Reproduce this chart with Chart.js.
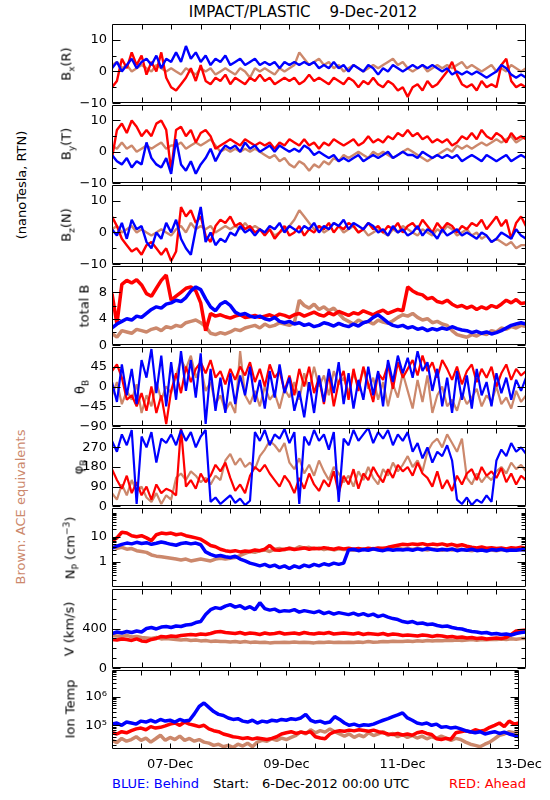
<!DOCTYPE html>
<html>
<head>
<meta charset="utf-8">
<script src="https://cdn.jsdelivr.net/npm/chart.js@4.4.1/dist/chart.umd.min.js"></script>
<style>
  body { margin: 0; background: #fff; width: 550px; height: 800px; position: relative; overflow: hidden;
         font-family: "DejaVu Sans", sans-serif; }
  canvas.panel { position: absolute; left: 0; }
  .txt { position: absolute; white-space: nowrap; font-size: 13px; line-height: 1; color: #000; }
  .rot { transform: translate(-50%, -50%) rotate(-90deg); }
  sub, sup { font-size: 9px; line-height: 0; }
</style>
</head>
<body>
<div class="txt" style="left:303px;top:12px;font-size:15px;transform:translate(-50%,-50%)">IMPACT/PLASTIC&nbsp;&nbsp;&nbsp;&nbsp;9-Dec-2012</div>
<div class="txt rot" style="left:21px;top:185px">(nanoTesla, RTN)</div>
<div class="txt rot" style="left:20px;top:507px;color:rgb(204,136,108)">Brown: ACE equivalents</div>
<div class="txt" style="left:112px;top:777px;color:#0000ff">BLUE: Behind</div>
<div class="txt" style="left:213px;top:777px">Start:</div>
<div class="txt" style="left:262px;top:777px">6-Dec-2012 00:00 UTC</div>
<div class="txt" style="right:24px;top:777px;color:#ff0000">RED: Ahead</div>

<script>
// time axis: hours after 6-Dec-2012 00:00, one sample every 2 h
const hours = Array.from({ length: 85 }, (_, i) => 2 * i);
const dayTicks = [24, 72, 120, 168];
const dayLabels = ['07-Dec', '09-Dec', '11-Dec', '13-Dec'];
const halfDays = [12, 24, 36, 48, 60, 72, 84, 96, 108, 120, 132, 144, 156];

// B_x (R), nT   -- one row per day
const bxBlue = [1,3,0,2,4,1,3,4,2,5,1,4, 3,6,3,8,4,6,3,5,2,4,3,5, 2,3,4,2,3,4,2,3,2,3,1,3,
  2,3,2,3,2,3,1,2,1,3,1,2, 0,2,1,0,2,1,-1,1,0,2,1,0, 1,2,1,2,1,2,1,0,1,-1,0,-1,
  0,-1,0,-1,-2,-1,0,2,1,-1,-2,-1, -2];
const bxRed = [-5,-3,4,1,6,2,5,-1,3,0,6,-2, -5,-6,-4,-2,1,-3,2,-3,-4,-2,-3,-1, -4,-2,-3,-4,-2,-3,-1,-3,-2,-4,-3,-2,
  -3,-2,-4,-3,-1,-3,-2,-3,-4,-2,-3,-4, -2,-3,-5,-3,-4,-2,-4,-5,-3,-4,-6,-5, -8,-5,-4,-6,-3,-5,-4,-2,0,3,-1,-4,
  -5,-4,-6,-3,-5,-4,-5,2,4,-3,-5,-4, -5];
const bxBrown = [2,3,1,2,0,1,2,1,0,2,1,0, 1,0,-1,1,0,-1,1,0,1,-1,0,1, 0,-1,1,0,-2,1,0,1,0,-1,1,0,
  1,2,6,4,2,3,4,2,3,1,2,0, 1,2,1,0,1,2,1,2,3,4,2,3, 1,0,1,2,0,1,2,1,2,1,2,3,
  1,2,1,0,1,2,0,1,0,2,1,0, 1];

// B_y (T), nT
const byBlue = [-1,-3,-4,-2,-5,-3,-4,3,-2,-4,-5,-2, -7,4,-4,-6,-3,-7,-4,-2,1,-3,0,2, 1,2,0,3,1,2,0,1,2,0,2,1,
  0,1,0,2,1,-1,0,-1,-2,-1,-3,-2, -3,-2,-1,-3,-2,-1,-2,-1,0,-2,-1,0, -1,-1,-2,0,-1,-2,-1,-2,-1,-2,-1,-3,
  -2,-1,-2,-3,-1,-2,-3,-2,-1,-3,-2,-1, -2];
const byRed = [-2,7,9,6,10,8,5,7,5,9,10,7, -6,7,8,5,7,3,6,7,5,1,2,3, 4,3,2,4,3,2,3,2,3,1,3,2,
  4,3,2,4,2,3,1,3,2,4,3,2, 3,4,2,3,5,3,4,3,5,4,6,5, 7,5,6,4,5,3,4,3,4,2,3,5,
  4,6,4,7,5,4,6,5,3,6,4,5, 4];
const byBrown = [2,1,3,1,2,0,1,2,1,2,3,1, 2,2,3,1,2,3,2,3,4,2,0,1, 0,1,0,1,0,1,0,-1,-2,-1,-3,-2,
  -4,-5,-3,-4,-6,-4,-5,-3,-4,-2,-3,-1, -2,-1,0,-1,-2,0,-1,0,-1,-2,-1,0, 1,0,-1,-2,-3,-2,-1,0,1,0,2,1,
  2,1,2,3,2,3,4,3,4,5,3,4, 5];

// B_z (N), nT
const bzBlue = [1,-1,3,-2,4,1,2,-3,-5,0,-2,3, 0,4,-2,-5,-7,1,8,-3,0,-4,-2,-3, 0,-1,2,0,1,-1,1,0,2,1,3,0,
  2,1,0,2,1,3,0,2,1,3,2,4, 1,3,2,1,3,2,0,1,-1,2,0,1, -1,0,2,-1,1,0,-2,1,-1,0,1,-1,
  0,-1,-2,0,-1,-3,-2,0,-1,-2,1,-1, -2];
const bzRed = [5,2,-2,-4,-6,-5,-7,-4,-3,-5,-7,-5, -9,-6,8,5,7,3,5,-1,-3,2,4,3, 5,2,3,1,2,0,1,-1,1,-2,0,2,
  -1,0,2,-1,1,0,2,1,3,0,2,1, 3,2,0,1,3,1,2,0,2,1,3,0, 2,3,1,4,2,0,3,1,3,2,0,2,
  1,3,2,4,1,3,5,2,4,-2,3,5, 2];
const bzBrown = [1,2,0,1,2,0,1,0,-1,0,1,0, -1,1,2,0,3,1,2,1,2,0,1,2, 1,2,1,3,1,2,1,0,1,-1,0,1,
  2,4,7,5,3,1,2,0,1,3,2,0, 1,2,0,1,-1,0,1,0,-1,1,0,2, 1,0,-1,1,0,-1,1,0,2,1,-1,0,
  1,-1,0,-2,-1,-3,-2,-3,-4,-3,-5,-4, -4];

// total B, nT
const btBlue = [2.6,3.2,3.6,4.0,3.8,4.4,4.2,4.8,5.4,5.8,5.6,6.2, 6.4,6.8,6.6,7.2,8.2,8.8,8.4,7.0,5.8,5.2,6.2,6.6,
  6.0,5.0,4.6,4.8,4.4,4.2,4.4,4.0,3.8,4.2,3.6,3.4, 3.6,3.2,3.4,3.0,3.2,2.8,3.0,3.4,3.2,2.9,3.3,3.0,
  2.8,3.2,2.9,3.4,3.6,4.2,4.6,4.0,3.4,3.0,2.8,3.0, 2.6,2.8,2.4,2.6,2.2,2.5,2.3,2.6,2.4,2.8,2.5,2.3,
  2.2,1.9,2.1,1.8,2.0,1.7,1.9,2.2,2.6,3.0,3.2,3.4, 3.2];
const btRed = [7.8,3.2,9.2,9.8,9.4,9.9,9.1,7.8,7.4,8.6,9.8,10.6, 6.8,7.4,8.0,8.6,8.8,8.2,6.4,2.2,4.8,4.4,4.6,4.3,
  4.1,4.4,4.6,4.2,4.3,4.5,4.2,4.4,4.6,4.3,4.7,4.5, 4.2,4.6,4.8,4.4,4.7,5.0,4.6,4.4,4.9,4.6,5.1,4.8,
  4.5,4.9,4.7,5.2,4.9,4.6,5.0,5.3,4.8,5.1,5.4,5.2, 8.8,8.2,7.8,7.6,7.0,7.2,6.6,6.4,6.8,6.2,5.8,6.0,
  5.6,5.9,5.4,5.8,5.5,6.0,5.7,6.2,6.8,6.4,6.9,6.3, 6.4];
const btBrown = [1.8,1.2,2.2,2.0,1.8,2.4,2.2,2.0,2.4,2.6,2.2,2.8, 2.6,3.0,2.8,3.4,3.6,3.8,3.4,2.8,1.8,1.6,1.9,1.7,
  2.0,2.4,2.2,2.6,2.8,3.0,2.6,3.2,2.8,3.0,3.4,3.2, 3.0,3.4,6.8,6.0,5.6,6.2,5.4,5.8,5.2,5.6,4.8,4.0,
  3.6,3.2,3.8,3.4,3.6,3.2,3.8,3.5,3.3,3.7,4.2,4.6, 4.4,4.8,4.2,3.8,4.0,3.4,3.6,3.2,3.0,2.2,1.6,1.4,
  1.2,1.6,1.4,1.8,1.6,2.2,2.0,2.6,2.4,2.8,2.6,3.0, 2.8];

// theta_B, degrees
const thBlue = [10,-35,50,-20,40,-40,60,20,85,-15,70,-45, 55,-30,80,-10,60,-25,75,-85,40,-55,20,-60,
  30,-40,25,-20,45,-35,15,-50,35,-25,50,-15, 20,-55,-10,-70,10,-60,25,-35,40,-15,55,-40,
  30,-50,15,-30,45,-20,35,-45,60,10,70,30, 65,20,80,35,55,-10,40,-45,20,-60,35,-30,
  25,-50,40,-20,10,-45,30,-15,20,-30,15,-10, 20];
const thRed = [35,50,20,-30,-20,-45,-15,-55,0,-60,-20,-85, -10,30,-15,45,10,40,55,30,60,20,35,5,
  40,15,45,25,55,10,40,0,50,20,35,-10, 25,-20,40,0,45,-15,20,-40,30,-45,10,35,
  -30,40,-10,45,5,-35,30,15,50,-5,55,20, 40,60,25,70,35,55,20,60,40,15,45,5,
  35,50,10,40,20,45,0,30,50,15,40,25, 35];
const thBrown = [-20,10,-40,-10,-30,5,-60,-20,-45,10,-30,0, -15,25,60,40,70,20,45,-10,10,-40,-20,-55,
  -35,-60,80,-20,-40,-10,-45,0,-30,-15,-50,-5, -25,10,-30,30,-10,45,0,25,-20,35,5,20,
  -15,30,0,40,-5,20,-30,10,-45,5,-25,30, -10,-50,15,-35,25,-60,-20,0,-45,-30,-55,-15,
  -40,-25,-5,-45,-20,-35,0,-40,-25,-50,-10,-35, -20];

// phi_B, degrees
const phBlue = [300,250,330,280,350,10,320,270,340,200,310,290, 330,280,350,300,340,270,320,350,20,40,10,30,
  50,15,35,5,25,340,300,350,280,330,310,355, 290,340,10,320,280,350,300,330,260,340,20,310,
  280,350,300,330,360,290,340,310,350,280,330,300, 340,250,290,220,270,200,250,230,280,210,30,10,
  40,5,30,15,50,20,210,260,230,290,250,270, 240];
const phRed = [170,120,80,140,60,110,50,90,30,100,60,80, 70,50,360,90,120,80,150,110,140,190,160,200,
  130,70,100,60,140,180,160,190,150,120,90,140, 110,60,130,80,150,100,70,120,90,160,60,140,
  100,170,80,150,120,180,140,110,170,130,190,160, 180,140,200,150,130,90,160,80,120,70,140,100,
  150,170,120,180,140,160,130,175,110,150,100,140, 120];
const phBrown = [60,30,100,50,120,70,90,40,20,60,10,50, 30,130,150,120,160,140,110,130,100,140,120,210,
  240,190,220,180,200,170,230,260,300,280,250,290, 200,170,220,150,190,140,210,160,120,180,150,110,
  140,90,160,120,180,130,100,170,140,200,160,190, 230,180,210,160,250,290,310,270,330,290,250,310,
  130,100,150,110,140,120,160,180,150,200,170,190, 160];

// proton density, cm^-3
const npBlue = [3.5,4.2,5.0,5.6,5.2,6.0,5.4,5.8,5.0,5.5,6.2,5.6, 5.0,4.6,5.4,5.8,5.2,5.6,4.8,2.5,2.0,1.7,1.8,1.6,
  1.5,1.7,1.3,1.1,0.9,0.8,0.7,0.8,0.65,0.75,0.6,0.7, 0.55,0.7,0.6,0.75,0.65,0.8,0.7,0.85,0.75,0.9,0.8,0.9,
  3.0,3.2,2.8,3.1,2.9,3.3,3.0,2.8,3.2,2.9,3.1,3.0, 3.2,2.9,3.3,3.0,3.4,3.1,2.9,3.2,3.0,3.3,2.8,3.1,
  2.9,3.2,2.8,3.0,2.7,3.1,2.9,3.2,2.8,3.0,2.9,3.1, 3.0];
const npRed = [7,9,15,14,11,10,11,9,7,12,14,13, 14,12,13,11,10,9,8,6,4.5,4,3.2,2.8,
  2.6,2.8,2.5,2.7,2.6,3.0,2.8,3.2,4.5,3.0,2.9,3.2, 3.4,3.1,3.3,3.6,3.2,3.5,3.3,3.7,3.4,3.2,3.6,3.3,
  3.5,3.2,3.4,3.1,3.5,3.3,3.6,3.4,3.8,4.2,4.6,5.0, 4.8,5.2,4.9,5.3,4.7,5.1,4.8,5.2,4.6,5.0,4.4,4.8,
  4.2,3.8,3.6,3.9,3.5,3.7,3.4,3.6,3.3,3.7,3.5,3.8, 3.5];
const npBrown = [4.0,3.5,3.8,3.2,3.4,2.8,2.6,2.4,1.9,1.7,1.6,1.5, 1.4,1.3,1.2,1.3,1.1,1.2,1.3,1.2,1.1,1.3,1.4,1.3,
  1.4,1.5,1.8,2.2,2.6,2.4,2.8,3.0,2.6,3.2,3.4,3.0, 3.6,3.2,4.0,3.5,3.8,3.3,3.6,3.1,3.4,3.0,3.3,3.1,
  3.2,2.9,3.1,3.3,3.0,3.4,3.2,3.5,3.1,3.3,3.6,3.2, 3.4,3.1,3.5,3.2,3.0,3.3,3.1,2.9,3.2,3.0,3.3,3.1,
  3.0,2.8,3.1,2.9,3.2,3.0,2.8,3.1,2.9,3.2,3.0,3.1, 3.0];

// bulk speed, km/s
const vBlue = [350,365,355,370,360,375,365,400,410,395,415,420, 410,425,420,435,440,460,470,540,590,610,600,625,
  640,615,630,600,620,590,660,600,585,595,570,580, 575,590,565,580,570,560,575,550,565,545,560,550,
  540,555,535,550,530,545,520,535,515,500,490,470, 460,470,450,455,440,445,430,420,425,410,400,395,
  380,370,365,355,360,345,350,340,345,335,350,360, 365];
const vRed = [290,285,295,290,280,295,275,270,290,300,320,315, 325,320,330,335,340,335,345,340,350,365,370,360,
  355,350,360,345,355,350,340,355,345,350,360,345, 350,355,345,360,350,345,355,350,360,345,350,355,
  350,345,355,340,350,345,340,350,335,345,340,330, 335,330,325,335,330,320,330,325,315,320,310,315,
  305,310,300,305,295,300,305,300,310,340,375,380, 385];
const vBrown = [330,325,320,330,315,320,310,305,300,310,295,300, 295,290,285,290,280,285,275,280,270,275,270,268,
  265,270,262,268,260,265,258,262,255,260,258,262, 260,265,258,262,260,255,262,258,265,260,262,258,
  262,258,265,260,268,262,265,270,266,272,268,270, 274,270,276,272,278,274,280,276,282,278,285,280,
  284,288,282,290,286,292,288,294,290,296,292,298, 300];

// ion temperature, K
const tBlue = [1.1e5,1.2e5,1.0e5,1.3e5,1.2e5,1.1e5,1.4e5,1.3e5,1.5e5,1.3e5,1.6e5,1.4e5,
  1.5e5,1.3e5,1.6e5,1.4e5,1.5e5,2.5e5,4.5e5,6.0e5,4.2e5,3.0e5,2.4e5,2.2e5,
  1.8e5,1.6e5,1.7e5,1.4e5,1.3e5,1.5e5,1.2e5,1.4e5,1.3e5,1.5e5,1.4e5,1.6e5,
  1.5e5,1.7e5,1.6e5,1.8e5,2.4e5,1.5e5,1.3e5,1.4e5,1.2e5,1.3e5,2.0e5,1.6e5,
  1.2e5,1.0e5,1.1e5,9.5e4,1.05e5,1.0e5,1.1e5,1.3e5,1.5e5,1.7e5,2.0e5,2.3e5,
  2.7e5,1.8e5,1.5e5,1.2e5,1.1e5,1.2e5,1.0e5,1.1e5,8.5e4,9.0e4,8.0e4,8.5e4,
  7.5e4,6.5e4,6.0e4,5.5e4,6.0e4,5.0e4,5.5e4,6.0e4,5.2e4,5.8e4,5.0e4,4.5e4, 4.0e4];
const tRed = [5.5e4,5.0e4,6.0e4,5.5e4,6.5e4,7.5e4,8.0e4,7.0e4,9.0e4,8.0e4,8.5e4,9.5e4,
  1.1e5,1.2e5,1.0e5,1.3e5,1.1e5,1.0e5,9.0e4,1.0e5,7.5e4,6.5e4,6.0e4,5.0e4,
  4.5e4,4.0e4,3.8e4,3.5e4,3.7e4,3.3e4,3.6e4,3.4e4,3.2e4,3.5e4,4.0e4,5.0e4,
  5.5e4,6.0e4,5.2e4,5.8e4,5.4e4,6.0e4,4.0e4,3.6e4,3.4e4,5.0e4,6.0e4,6.5e4,
  6.2e4,6.8e4,6.4e4,7.0e4,6.6e4,6.2e4,6.8e4,6.0e4,5.5e4,5.0e4,4.8e4,5.2e4,
  4.6e4,5.0e4,4.5e4,5.5e4,6.0e4,5.2e4,4.8e4,3.4e4,3.2e4,3.5e4,3.3e4,5.5e4,
  6.0e4,6.5e4,5.8e4,7.0e4,6.2e4,6.8e4,8.5e4,1.0e5,1.2e5,9.0e4,1.4e5,1.1e5, 1.2e5];
const tBrown = [3.0e4,2.5e4,3.5e4,2.8e4,3.2e4,4.0e4,3.0e4,3.6e4,2.6e4,3.4e4,4.5e4,3.0e4,
  3.8e4,3.2e4,4.2e4,3.0e4,3.5e4,2.8e4,3.2e4,2.6e4,2.4e4,2.0e4,2.2e4,1.8e4,
  2.0e4,1.7e4,2.2e4,1.9e4,2.4e4,1.8e4,2.6e4,3.0e4,2.8e4,3.4e4,3.0e4,3.6e4,
  3.2e4,3.8e4,4.5e4,6.0e4,5.0e4,7.0e4,5.5e4,6.5e4,5.8e4,7.5e4,6.0e4,5.0e4,
  4.2e4,5.0e4,3.8e4,4.6e4,4.0e4,5.5e4,4.4e4,5.0e4,6.0e4,4.5e4,5.2e4,4.0e4,
  4.8e4,3.8e4,4.4e4,3.6e4,4.2e4,3.4e4,4.0e4,3.5e4,4.2e4,3.6e4,3.0e4,3.5e4,
  3.2e4,2.6e4,2.2e4,2.0e4,1.8e4,2.2e4,2.6e4,3.4e4,4.5e4,5.0e4,6.0e4,5.5e4, 6.0e4];

// axis tick values
const bLabels = [-10, 0, 10], bMinor = [-5, 5];
const btLabels = [0, 4, 8], btMinor = [2, 6, 10];
const thLabels = [-90, -45, 0, 45], thMinor = [];
const phLabels = [0, 90, 180, 270], phMinor = [];
const npLabels = [1, 10], npMinor = [0.2,0.3,0.4,0.5,0.6,0.7,0.8,0.9,2,3,4,5,6,7,8,9,20,30,40,50,60,70,80,90];
const vLabels = [0, 400], vMinor = [100, 200, 300, 500, 600, 700];
const tLabels = [1e5, 1e6], tMinor = [2e4,3e4,4e4,5e4,6e4,7e4,8e4,9e4,2e5,3e5,4e5,5e5,6e5,7e5,8e5,9e5,2e6,3e6,4e6,5e6,6e6,7e6,8e6];

const TOP0 = 23, PANEL_H = 80.7, LEFT = 112, RIGHT = 526, PAD = 12, XLAB = 30;
const BLUE = '#0000ff', RED = '#ff0000', BROWN = 'rgb(204,136,108)';
const FONT = { family: 'DejaVu Sans', size: 13 };

const minus = v => String(v).replace('-', '\u2212');
const pow10 = v => v === 1e5 ? '10\u2075' : v === 1e6 ? '10\u2076' : String(v);

const panels = [
  { title: 'B<sub>x</sub>(R)', tx: 66, blue: bxBlue, red: bxRed, brown: bxBrown, min: -10, max: 15, labels: bLabels, minor: bMinor, fmt: minus, lw: 2.4 },
  { title: 'B<sub>y</sub>(T)', tx: 66, blue: byBlue, red: byRed, brown: byBrown, min: -10, max: 15, labels: bLabels, minor: bMinor, fmt: minus, lw: 2.4 },
  { title: 'B<sub>z</sub>(N)', tx: 66, blue: bzBlue, red: bzRed, brown: bzBrown, min: -10, max: 15, labels: bLabels, minor: bMinor, fmt: minus, lw: 2.4 },
  { title: 'total B', tx: 84, blue: btBlue, red: btRed, brown: btBrown, min: 0, max: 12, labels: btLabels, minor: btMinor, fmt: minus, lw: 3.5 },
  { title: '\u03b8<sub>B</sub>', tx: 80, blue: thBlue, red: thRed, brown: thBrown, min: -90, max: 90, labels: thLabels, minor: thMinor, fmt: minus, lw: 2.2 },
  { title: '\u03c6<sub>B</sub>', tx: 78, blue: phBlue, red: phRed, brown: phBrown, min: 0, max: 360, labels: phLabels, minor: phMinor, fmt: minus, lw: 2.2 },
  { title: 'N<sub>P</sub> (cm<sup>\u22123</sup>)', tx: 70, blue: npBlue, red: npRed, brown: npBrown, min: 0.1, max: 140, log: true, labels: npLabels, minor: npMinor, fmt: String, lw: 3.5 },
  { title: 'V (km/s)', tx: 69, blue: vBlue, red: vRed, brown: vBrown, min: 0, max: 800, labels: vLabels, minor: vMinor, fmt: minus, lw: 3.5 },
  { title: 'Ion Temp', tx: 70, blue: tBlue, red: tRed, brown: tBrown, min: 1.5e4, max: 8.5e6, log: true, labels: tLabels, minor: tMinor, fmt: pow10, lw: 3.5 }
];

// inward ticks and panel frame, the way the IDL plot draws them
function framePlugin(p) {
  return {
    id: 'frame',
    afterDatasetsDraw(chart) {
      const { ctx, chartArea: a } = chart;
      const x = chart.scales.x, y = chart.scales.y;
      const L = Math.round(a.left) + 0.5, R = Math.round(a.right) - 0.5;
      const T = Math.round(a.top) + 0.5, B = Math.round(a.bottom) - 0.5;
      ctx.save();
      ctx.strokeStyle = '#000';
      ctx.lineWidth = 1;
      ctx.beginPath();
      ctx.rect(L, T, R - L, B - T);
      const ytick = (v, len) => {
        const yy = Math.round(y.getPixelForValue(v)) + 0.5;
        ctx.moveTo(L, yy); ctx.lineTo(L + len, yy);
        ctx.moveTo(R, yy); ctx.lineTo(R - len, yy);
      };
      p.labels.forEach(v => ytick(v, 8));
      p.minor.forEach(v => ytick(v, 4));
      halfDays.forEach(t => {
        const xx = Math.round(x.getPixelForValue(t)) + 0.5;
        ctx.moveTo(xx, T); ctx.lineTo(xx, T + 5);
        ctx.moveTo(xx, B); ctx.lineTo(xx, B - 5);
      });
      ctx.stroke();
      ctx.restore();
    }
  };
}

function series(vals, color, lw) {
  return {
    data: vals.map((v, i) => ({ x: hours[i], y: v })),
    borderColor: color,
    borderWidth: lw,
    borderJoinStyle: 'bevel',
    pointRadius: 0,
    tension: 0,
    clip: 0
  };
}

panels.forEach((p, k) => {
  const top = Math.round(TOP0 + k * PANEL_H);
  const bottom = Math.round(TOP0 + (k + 1) * PANEL_H);
  const last = k === panels.length - 1;

  const cv = document.createElement('canvas');
  cv.className = 'panel';
  cv.width = 550;
  cv.height = (bottom - top) + PAD + (last ? XLAB : PAD);
  cv.style.top = (top - PAD) + 'px';
  document.body.appendChild(cv);

  const lab = document.createElement('div');
  lab.className = 'txt rot';
  lab.style.left = p.tx + 'px';
  lab.style.top = ((top + bottom) / 2) + 'px';
  lab.innerHTML = p.title;
  document.body.appendChild(lab);

  const xScale = {
    type: 'linear', min: 0, max: 168, display: last,
    grid: { display: false, drawTicks: false }, border: { display: false },
    afterBuildTicks: s => { s.ticks = dayTicks.map(v => ({ value: v })); },
    ticks: { callback: v => dayLabels[dayTicks.indexOf(v)], font: FONT, color: '#000', padding: 8, maxRotation: 0, autoSkip: false }
  };
  if (last) xScale.afterFit = s => { s.height = XLAB; };

  new Chart(cv.getContext('2d'), {
    type: 'line',
    data: { datasets: [series(p.blue, BLUE, p.lw), series(p.red, RED, p.lw), series(p.brown, BROWN, p.lw)] },
    options: {
      responsive: false,
      animation: false,
      devicePixelRatio: 1,
      layout: { padding: { left: 0, right: 550 - RIGHT, top: PAD, bottom: last ? 0 : PAD } },
      plugins: { legend: { display: false }, tooltip: { enabled: false } },
      scales: {
        x: xScale,
        y: {
          type: p.log ? 'logarithmic' : 'linear', min: p.min, max: p.max,
          grid: { display: false, drawTicks: false }, border: { display: false },
          afterBuildTicks: s => { s.ticks = p.labels.map(v => ({ value: v })); },
          afterFit: s => { s.width = LEFT; },
          ticks: { callback: v => p.fmt(v), font: FONT, color: '#000', padding: 5, autoSkip: false }
        }
      }
    },
    plugins: [framePlugin(p)]
  });
});
</script>
</body>
</html>
